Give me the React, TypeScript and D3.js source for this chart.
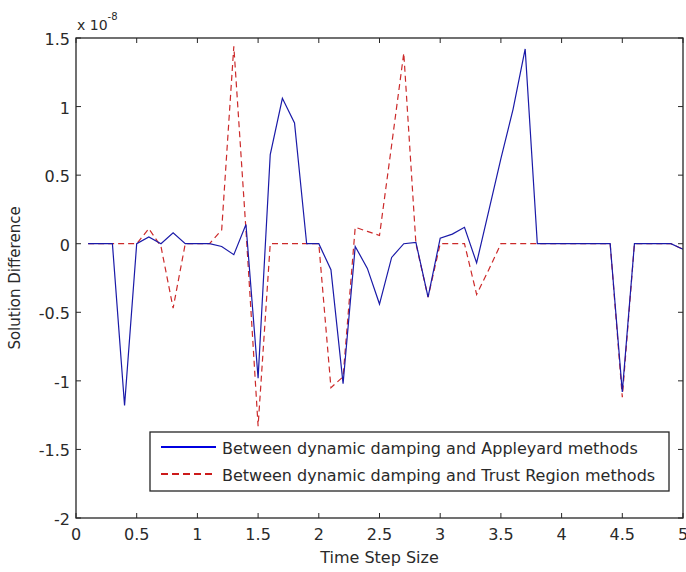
import React from "react";
import * as d3 from "d3";

const stepSizes = [
  0.1, 0.2, 0.3, 0.4, 0.5, 0.6, 0.7, 0.8, 0.9, 1.0,
  1.1, 1.2, 1.3, 1.4, 1.5, 1.6, 1.7, 1.8, 1.9, 2.0,
  2.1, 2.2, 2.3, 2.4, 2.5, 2.6, 2.7, 2.8, 2.9, 3.0,
  3.1, 3.2, 3.3, 3.4, 3.5, 3.6, 3.7, 3.8, 3.9, 4.0,
  4.1, 4.2, 4.3, 4.4, 4.5, 4.6, 4.7, 4.8, 4.9, 5.0,
];

// values in units of 1e-8
const appleyardDiff = [
  0, 0, 0, -1.18, 0, 0.05, 0.0, 0.08, 0, 0,
  0, -0.02, -0.08, 0.14, -0.98, 0.65, 1.06, 0.88, 0, 0,
  -0.19, -1.02, -0.02, -0.18, -0.44, -0.1, 0.0, 0.01, -0.39, 0.04,
  0.07, 0.12, -0.14, 0.24, 0.62, 0.98, 1.42, 0, 0, 0,
  0, 0, 0, 0, -1.08, 0, 0, 0, 0, -0.04,
];

const trustRegionDiff = [
  0, 0, 0, 0, 0, 0.11, -0.02, -0.47, 0, 0,
  0, 0.1, 1.44, 0.1, -1.33, 0, 0, 0, 0, 0,
  -1.05, -0.97, 0.12, 0.09, 0.06, 0.72, 1.39, 0.0, -0.39, 0,
  0, 0, -0.37, -0.19, 0, 0, 0, 0, 0, 0,
  0, 0, 0, 0, -1.12, 0, 0, 0, 0, -0.04,
];

const xTicks = [0, 0.5, 1, 1.5, 2, 2.5, 3, 3.5, 4, 4.5, 5];
const yTicks = [-2, -1.5, -1, -0.5, 0, 0.5, 1, 1.5];
const legendLabels = [
  "Between dynamic damping and Appleyard methods",
  "Between dynamic damping and Trust Region methods",
];

const W = 686;
const H = 572;
const M = { left: 76, top: 38, right: 683, bottom: 518 };
const FONT = "'DejaVu Sans', Verdana, sans-serif";

export default function App() {
  const x = d3.scaleLinear().domain([0, 5]).range([M.left, M.right]);
  const y = d3.scaleLinear().domain([-2, 1.5]).range([M.bottom, M.top]);

  const line = d3
    .line<[number, number]>()
    .x((d) => x(d[0]))
    .y((d) => y(d[1]));

  const blueData: [number, number][] = stepSizes.map((s, i) => [s, appleyardDiff[i]]);
  const redData: [number, number][] = stepSizes.map((s, i) => [s, trustRegionDiff[i]]);

  const axisColor = "#262626";
  const textColor = "#2a2a2a";
  const tickLen = 5;
  const blue = "#1a1aa8";
  const red = "#cc2a2a";

  const legX = 150;
  const legY = 432;
  const legW = 519;
  const legH = 59;

  return (
    <svg
      width={W}
      height={H}
      style={{ position: "absolute", left: 0, top: 0, background: "#fff" }}
      fontFamily={FONT}
    >
      <rect x={0} y={0} width={W} height={H} fill="#fff" />
      {/* data lines */}
      <path d={line(redData) || ""} fill="none" stroke={red} strokeWidth={1.2} strokeDasharray="6,4" />
      <path d={line(blueData) || ""} fill="none" stroke={blue} strokeWidth={1.2} />

      {/* box */}
      <rect
        x={M.left}
        y={M.top}
        width={M.right - M.left}
        height={M.bottom - M.top}
        fill="none"
        stroke={axisColor}
        strokeWidth={1.3}
      />
      {/* x ticks */}
      {xTicks.map((t) => (
        <g key={"x" + t}>
          <line x1={x(t)} x2={x(t)} y1={M.bottom} y2={M.bottom - tickLen} stroke={axisColor} />
          <line x1={x(t)} x2={x(t)} y1={M.top} y2={M.top + tickLen} stroke={axisColor} />
          <text x={x(t)} y={M.bottom + 22} textAnchor="middle" fontSize={16} fill={textColor}>
            {String(t)}
          </text>
        </g>
      ))}
      {/* y ticks */}
      {yTicks.map((t) => (
        <g key={"y" + t}>
          <line x1={M.left} x2={M.left + tickLen} y1={y(t)} y2={y(t)} stroke={axisColor} />
          <line x1={M.right} x2={M.right - tickLen} y1={y(t)} y2={y(t)} stroke={axisColor} />
          <text x={M.left - 6} y={y(t) + 7} textAnchor="end" fontSize={16} fill={textColor}>
            {String(t)}
          </text>
        </g>
      ))}
      {/* exponent */}
      <text x={M.left + 1} y={M.top - 8} fontSize={14} fill={textColor}>
        x 10
        <tspan dy={-10} fontSize={10}>-8</tspan>
      </text>

      {/* axis labels */}
      <text x={x(2.5)} y={563} textAnchor="middle" fontSize={16} fill={textColor}>
        Time Step Size
      </text>
      <text
        transform={`translate(20, ${(M.top + M.bottom) / 2}) rotate(-90)`}
        textAnchor="middle"
        fontSize={15}
        fill={textColor}
      >
        Solution Difference
      </text>

      {/* legend */}
      <rect x={legX} y={legY} width={legW} height={legH} fill="#fff" stroke={axisColor} strokeWidth={1.3} />
      <line x1={161} x2={216} y1={legY + 15} y2={legY + 15} stroke="#0000e0" strokeWidth={2} />
      <line x1={161} x2={216} y1={legY + 42} y2={legY + 42} stroke="#cc1a1a" strokeWidth={2} strokeDasharray="7,4" />
      <text x={222} y={legY + 22} fontSize={16} fill={textColor}>
        {legendLabels[0]}
      </text>
      <text x={222} y={legY + 49} fontSize={16} fill={textColor}>
        {legendLabels[1]}
      </text>
    </svg>
  );
}
